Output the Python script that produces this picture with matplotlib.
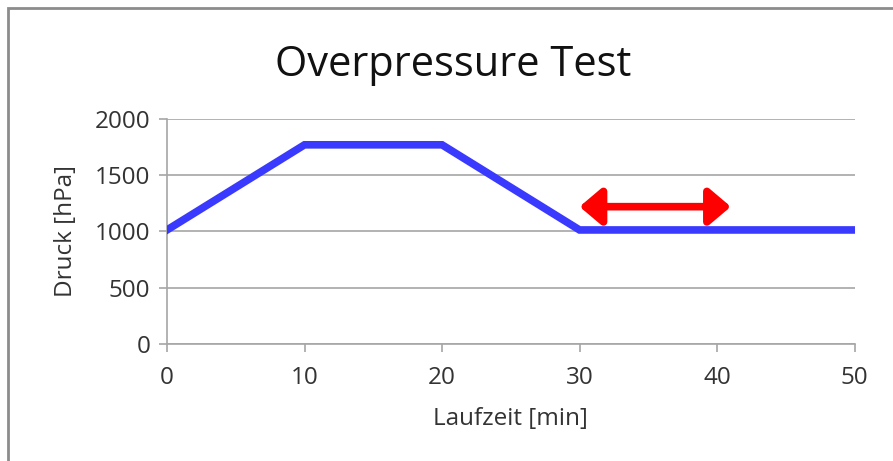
import matplotlib.pyplot as plt
from matplotlib.patches import Rectangle

plt.rcParams['font.family'] = ['Open Sans', 'DejaVu Sans']

# Druckverlauf
zeit = [0, 10, 20, 30, 50]
druck = [1013, 1770, 1770, 1013, 1013]

# Messbereich (Pfeil)
pfeil_x = [30, 41]
pfeil_y = 1220

x_ticks = [0, 10, 20, 30, 40, 50]
y_ticks = [0, 500, 1000, 1500, 2000]

fig = plt.figure(figsize=(8.93, 4.61), dpi=100)
ax = fig.add_axes([0.187, 0.254, 0.770, 0.488])

ax.plot(zeit, druck, color='#3a3aff', lw=5.5, solid_joinstyle='miter', zorder=3)
ax.annotate('', xy=(pfeil_x[0], pfeil_y), xytext=(pfeil_x[1], pfeil_y),
            arrowprops=dict(arrowstyle='<|-|>,head_length=1.3,head_width=1.1',
                            color='red', lw=5.5, shrinkA=0, shrinkB=0),
            zorder=4)

ax.set_xlim(0, 50)
ax.set_ylim(0, 2000)
ax.set_xticks(x_ticks)
ax.set_yticks(y_ticks)
ax.grid(axis='y', color='#a6a6a6', lw=1.2)
ax.set_axisbelow(True)

for s in ['top', 'right']:
    ax.spines[s].set_visible(False)
for s in ['left', 'bottom']:
    ax.spines[s].set_color('#a6a6a6')
    ax.spines[s].set_linewidth(1.2)
ax.tick_params(colors='#a6a6a6', labelcolor='#333333', labelsize=17.5, length=6, width=1.2)
ax.tick_params(axis='x', pad=10)
ax.tick_params(axis='y', pad=6)

ax.set_xlabel('Laufzeit [min]', fontsize=17.5, color='#333333', labelpad=12)
ax.set_ylabel('Druck [hPa]', fontsize=17.5, color='#333333', labelpad=12)
fig.text(0.508, 1 - 76 / 461, 'Overpressure Test', ha='center', va='baseline', fontsize=30, color='#111111')

# Rahmen um die Grafik
fig.patches.append(Rectangle((8 / 893, -0.1), 1.2, 1 - 8 / 461 + 0.1, transform=fig.transFigure,
                             fill=False, ec='#8c8c8c', lw=2))

fig.savefig('out.png', dpi=100)
